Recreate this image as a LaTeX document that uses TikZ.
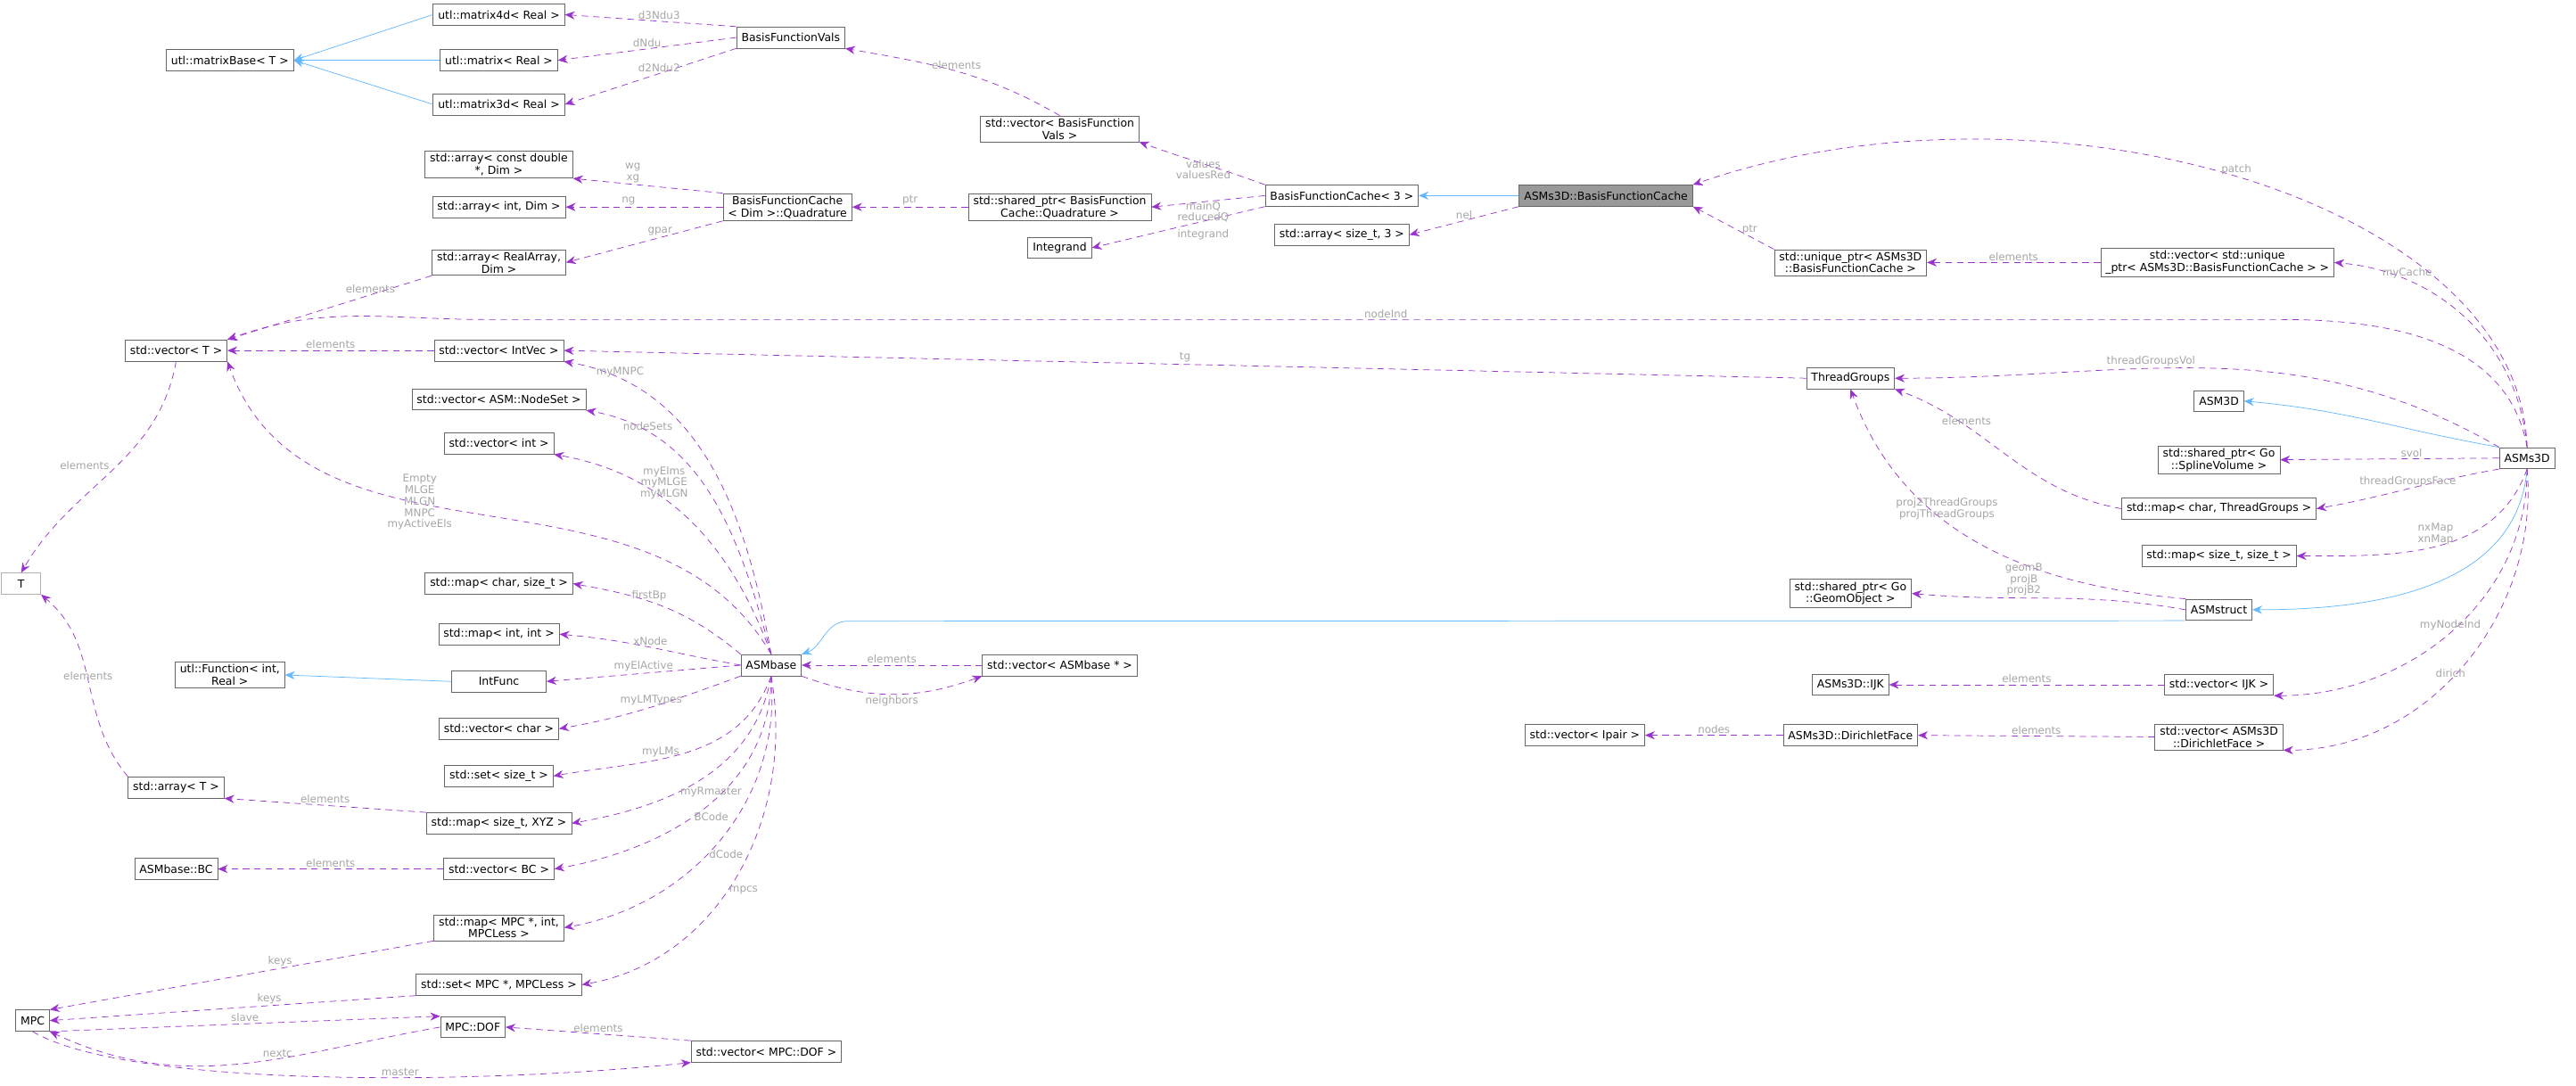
\documentclass[tikz,border=0pt]{standalone}
\usepackage{fontspec}
\setmainfont{DejaVu Sans}
\usetikzlibrary{arrows.meta}
\definecolor{mem}{HTML}{9A32CD}
\definecolor{inh}{HTML}{63B8FF}
\tikzset{
  box/.style={draw=black!60, fill=white, font=\fontsize{6.8}{7.6}\selectfont, align=center, inner xsep=3pt, inner ysep=1.5pt, minimum height=13pt},
  member/.style={draw=mem, dashed, dash pattern=on 4pt off 3pt, -{Stealth[length=6pt,width=5pt]}},
  inherit/.style={draw=inh, -{Stealth[length=6pt,width=5pt]}},
  lbl/.style={font=\fontsize{6.5}{7}\selectfont, text=black!35, align=center, inner sep=1pt}
}
\begin{document}
\begin{tikzpicture}[x=1pt,y=1pt]
\useasboundingbox (0,0) rectangle (1580,-666);

\node[box] (m4) at (306,-9) {utl::matrix4d\textless{} Real \textgreater{}};
\node[box] (mb) at (141,-37) {utl::matrixBase\textless{} T \textgreater{}};
\node[box] (m) at (306,-37) {utl::matrix\textless{} Real \textgreater{}};
\node[box] (m3) at (306,-64) {utl::matrix3d\textless{} Real \textgreater{}};
\node[box] (bfv) at (485,-23) {BasisFunctionVals};
\node[box] (vbfv) at (650,-79) {std::vector\textless{} BasisFunction\\Vals \textgreater{}};
\node[box] (acd) at (306,-101) {std::array\textless{} const double\\*, Dim \textgreater{}};
\node[box] (aid) at (306,-127) {std::array\textless{} int, Dim \textgreater{}};
\node[box] (ara) at (306,-161) {std::array\textless{} RealArray,\\Dim \textgreater{}};
\node[box] (bfcq) at (483,-127) {BasisFunctionCache\\\textless{} Dim \textgreater::Quadrature};
\node[box] (sbfcq) at (650,-127) {std::shared\_ptr\textless{} BasisFunction\\Cache::Quadrature \textgreater{}};
\node[box] (itg) at (650,-152) {Integrand};
\node[box] (bfc3) at (823,-120) {BasisFunctionCache\textless{} 3 \textgreater{}};
\node[box] (ast3) at (823,-144) {std::array\textless{} size\_t, 3 \textgreater{}};
\node[box, fill=black!40] (sbfc) at (985,-120) {ASMs3D::BasisFunctionCache};
\node[box] (uptr) at (1135,-161) {std::unique\_ptr\textless{} ASMs3D\\::BasisFunctionCache \textgreater{}};
\node[box] (vuptr) at (1360,-161) {std::vector\textless{} std::unique\\\_ptr\textless{} ASMs3D::BasisFunctionCache \textgreater{} \textgreater{}};
\node[box] (vt) at (108,-215) {std::vector\textless{} T \textgreater{}};
\node[box] (viv) at (306,-215) {std::vector\textless{} IntVec \textgreater{}};
\node[box] (tg) at (1135,-232) {ThreadGroups};
\node[box] (a3d) at (1361,-246) {ASM3D};
\node[box] (s3d) at (1550,-281) {ASMs3D};
\node[box] (vns) at (306,-245) {std::vector\textless{} ASM::NodeSet \textgreater{}};
\node[box] (vi) at (306,-272) {std::vector\textless{} int \textgreater{}};
\node[box] (ssv) at (1361,-282) {std::shared\_ptr\textless{} Go\\::SplineVolume \textgreater{}};
\node[box] (mtg) at (1361,-312) {std::map\textless{} char, ThreadGroups \textgreater{}};
\node[box, draw=black!30, minimum width=24pt] (t) at (13,-358) {T};
\node[box] (mcs) at (306,-358) {std::map\textless{} char, size\_t \textgreater{}};
\node[box] (mss) at (1361,-341) {std::map\textless{} size\_t, size\_t \textgreater{}};
\node[box] (sgo) at (1135,-364) {std::shared\_ptr\textless{} Go\\::GeomObject \textgreater{}};
\node[box] (astr) at (1361,-374) {ASMstruct};
\node[box] (mii) at (306,-389) {std::map\textless{} int, int \textgreater{}};
\node[box] (uf) at (141,-414) {utl::Function\textless{} int,\\Real \textgreater{}};
\node[box] (ab) at (473,-408) {ASMbase};
\node[box] (vab) at (650,-408) {std::vector\textless{} ASMbase * \textgreater{}};
\node[box] (ijk) at (1135,-420) {ASMs3D::IJK};
\node[box] (vijk) at (1361,-420) {std::vector\textless{} IJK \textgreater{}};
\node[box, minimum width=58pt] (ifn) at (306,-418) {IntFunc};
\node[box] (vc) at (306,-447) {std::vector\textless{} char \textgreater{}};
\node[box] (df) at (1135,-451) {ASMs3D::DirichletFace};
\node[box] (vip) at (972,-451) {std::vector\textless{} Ipair \textgreater{}};
\node[box] (vdf) at (1361,-452) {std::vector\textless{} ASMs3D\\::DirichletFace \textgreater{}};
\node[box] (sst) at (306,-476) {std::set\textless{} size\_t \textgreater{}};
\node[box] (at) at (108,-483) {std::array\textless{} T \textgreater{}};
\node[box] (msx) at (306,-505) {std::map\textless{} size\_t, XYZ \textgreater{}};
\node[box] (bc) at (108,-533) {ASMbase::BC};
\node[box] (vbc) at (306,-533) {std::vector\textless{} BC \textgreater{}};
\node[box] (mmpc) at (306,-569) {std::map\textless{} MPC *, int,\\MPCLess \textgreater{}};
\node[box] (smpc) at (306,-604) {std::set\textless{} MPC *, MPCLess \textgreater{}};
\node[box] (mpc) at (20,-626) {MPC};
\node[box] (dof) at (290,-630) {MPC::DOF};
\node[box] (vdof) at (470,-645) {std::vector\textless{} MPC::DOF \textgreater{}};

\draw[inherit] (m4.west) -- (mb.east);
\draw[inherit] (m.west) -- (mb.east);
\draw[inherit] (m3.west) -- (mb.east);
\draw[inherit] (sbfc.west) -- (bfc3.east);
\draw[inherit] (s3d.north west) to[out=170,in=-5] (a3d.east);
\draw[inherit] (s3d.south) to[out=-95,in=0] (astr.east);
\draw[inherit] (astr.south west) -- (520,-381) to[out=180,in=20] (ab.north east);
\draw[inherit] (ifn.west) -- (uf.east);

\draw[member] (bfv.north west) -- node[lbl,above,pos=0.45]{d3Ndu3} (m4.east);
\draw[member] (bfv.west) -- node[lbl,above]{dNdu} (m.east);
\draw[member] (bfv.south west) -- node[lbl,above,pos=0.45]{d2Ndu2} (m3.east);
\draw[member] (vbfv.north) to[out=150,in=-10] node[lbl,above]{elements} (bfv.south east);
\draw[member] (bfc3.north west) to[out=160,in=-20] (vbfv.south east);
\draw[member] (bfc3.west) -- (sbfcq.east);
\draw[member] (bfc3.south west) -- (itg.east);
\node[lbl] at (738,-104) {values\\valuesRed};
\node[lbl] at (738,-130) {mainQ\\reducedQ};
\node[lbl] at (738,-144) {integrand};
\draw[member] (sbfcq.west) -- node[lbl,above]{ptr} (bfcq.east);
\draw[member] (bfcq.north west) -- node[lbl,above,pos=0.6]{wg\\xg} (acd.south east);
\draw[member] (bfcq.west) -- node[lbl,above,pos=0.6]{ng} (aid.east);
\draw[member] (bfcq.south west) -- node[lbl,above,pos=0.4]{gpar} (ara.east);
\draw[member] (ara.south west) -- node[lbl,above,pos=0.3]{elements} (vt.north east);
\draw[member] (sbfc.south west) -- node[lbl,above]{nel} (ast3.east);
\draw[member] (uptr.north west) -- node[lbl,above,pos=0.3]{ptr} (sbfc.south east);
\draw[member] (vuptr.west) -- node[lbl,above]{elements} (uptr.east);
\draw[member] (s3d.north) to[out=95,in=-5] node[lbl,above,pos=0.75]{myCache} (vuptr.east);
\draw[member] (s3d.north) .. controls (1545,-120) and (1250,-40) .. node[lbl,above,pos=0.5]{patch} (sbfc.north east);
\draw[member] (s3d.north) to[out=100,in=0] (1400,-196) -- node[lbl,above]{nodeInd} (300,-196) to[out=180,in=20] (vt.north east);
\draw[member] (viv.west) -- node[lbl,above]{elements} (vt.east);
\draw[member] (tg.west) -- node[lbl,above]{tg} (viv.east);
\draw[member] (s3d.north west) to[out=150,in=0] node[lbl,above,pos=0.6]{threadGroupsVol} (tg.east);
\draw[member] (mtg.west) to[out=170,in=-20] node[lbl,above,pos=0.7]{elements} (tg.south east);
\draw[member] (s3d.west) -- node[lbl,above,pos=0.4]{svol} (ssv.east);
\draw[member] (s3d.south west) to[out=190,in=10] node[lbl,above,pos=0.5]{threadGroupsFace} (mtg.east);
\draw[member] (s3d.south) to[out=-110,in=0] node[lbl,above,pos=0.5]{nxMap\\xnMap} (mss.east);
\draw[member] (s3d.south) to[out=-90,in=0] node[lbl,above,pos=0.5]{myNodeInd} (vijk.south east);
\draw[member] (s3d.south) to[out=-85,in=0] node[lbl,above,pos=0.55]{dirich} (vdf.south east);
\draw[member] (astr.north west) to[out=175,in=-70] node[lbl,above,pos=0.6]{proj2ThreadGroups\\projThreadGroups} (tg.south);
\draw[member] (astr.west) to[out=170,in=-5] node[lbl,above,pos=0.6]{geomB\\projB\\projB2} (sgo.east);
\draw[member] (vijk.west) -- node[lbl,above]{elements} (ijk.east);
\draw[member] (vdf.west) -- node[lbl,above]{elements} (df.east);
\draw[member] (df.west) -- node[lbl,above]{nodes} (vip.east);
\draw[member] (vt.south) to[out=-100,in=60] node[lbl,above left,pos=0.5]{elements} (t.north);
\draw[member] (at.north west) to[out=130,in=-40] node[lbl,above,pos=0.5]{elements} (t.south east);

\draw[member] (ab.north) to[out=100,in=-10] node[lbl,above,pos=0.85]{myMNPC} (viv.south east);
\draw[member] (ab.north) to[out=105,in=-10] node[lbl,above,pos=0.8]{nodeSets} (vns.south east);
\draw[member] (ab.north) to[out=110,in=-10] node[lbl,right,pos=0.72]{myElms\\myMLGE\\myMLGN} (vi.south east);
\draw[member] (ab.north) to[out=120,in=-70] node[lbl,pos=0.6]{Empty\\MLGE\\MLGN\\MNPC\\myActiveEls} (vt.south east);
\draw[member] (ab.north west) to[out=140,in=-10] node[lbl,right,pos=0.7]{firstBp} (mcs.east);
\draw[member] (ab.west) to[out=170,in=-5] node[lbl,above,pos=0.5]{xNode} (mii.east);
\draw[member] (ab.west) -- node[lbl,above,pos=0.5]{myElActive} (ifn.east);
\draw[member] (ab.south west) to[out=200,in=10] node[lbl,above,pos=0.5]{myLMTypes} (vc.east);
\draw[member] (ab.south) to[out=-110,in=10] node[lbl,above,pos=0.6]{myLMs} (sst.east);
\draw[member] (ab.south) to[out=-100,in=10] node[lbl,right,pos=0.6]{myRmaster} (msx.east);
\draw[member] (ab.south) to[out=-90,in=10] node[lbl,right,pos=0.55]{BCode} (vbc.east);
\draw[member] (ab.south) to[out=-85,in=10] node[lbl,right,pos=0.55]{dCode} (mmpc.east);
\draw[member] (ab.south) to[out=-80,in=10] node[lbl,right,pos=0.55]{mpcs} (smpc.east);
\draw[member] (ab.south east) to[out=-20,in=200] node[lbl,below,pos=0.5]{neighbors} (vab.south west);
\draw[member] (vab.west) -- node[lbl,above]{elements} (ab.east);
\draw[member] (msx.north west) -- node[lbl,above]{elements} (at.south east);
\draw[member] (vbc.west) -- node[lbl,above]{elements} (bc.east);
\draw[member] (mmpc.south west) -- node[lbl,above,pos=0.4]{keys} (mpc.north east);
\draw[member] (smpc.south west) -- node[lbl,above,pos=0.4]{keys} (mpc.east);
\draw[member] (mpc.south east) -- node[lbl,above,pos=0.5]{slave} (dof.north west);
\draw[member] (dof.west) to[out=190,in=-25] node[lbl,above,pos=0.4]{nextc} (mpc.south east);
\draw[member] (mpc.south) .. controls (80,-668) and (300,-665) .. node[lbl,above,pos=0.6]{master} (vdof.south west);
\draw[member] (vdof.north west) -- node[lbl,above]{elements} (dof.east);
\end{tikzpicture}
\end{document}
